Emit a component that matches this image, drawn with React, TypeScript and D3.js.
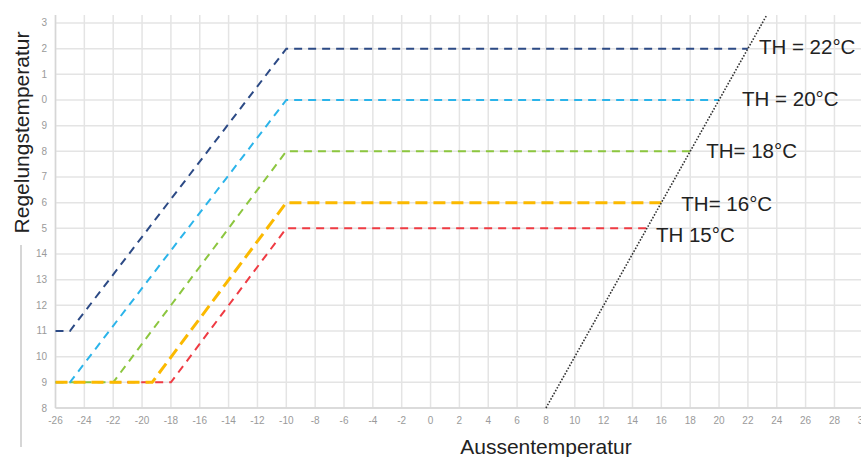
import React from "react";
import * as d3 from "d3";

const W = 861;
const H = 457;

// x ticks (Aussentemperatur)
const xTicks = d3.range(-26, 31, 2);
// y ticks (Regelungstemperatur) and their labels as shown
const yTicks = d3.range(8, 24, 1);
const yTickLabels = ["8", "9", "10", "11", "12", "13", "14", "5", "6", "7", "8", "9", "0", "1", "2", "3"];

// series: [x, y] points
const serDark: [number, number][] = [[-26, 11], [-25, 11], [-10, 22], [22, 22]];
const serLight: [number, number][] = [[-26, 9], [-25, 9], [-10, 20], [20, 20]];
const serGreen: [number, number][] = [[-26, 9], [-22, 9], [-10, 18], [18, 18]];
const serOrange: [number, number][] = [[-26, 9], [-19.3, 9], [-10, 16], [16, 16]];
const serRed: [number, number][] = [[-22, 9], [-18, 9], [-10, 15], [15, 15]];

// dotted heating limit line y = x
const limitLine: [number, number][] = [[8, 8], [23.31, 23.31]];

const labelTexts = ["TH = 22°C", "TH = 20°C", "TH= 18°C", "TH= 16°C", "TH 15°C"];
const labelAnchors: [number, number][] = [[22, 22], [20, 20], [18, 18], [16, 16], [15, 15]];
const labelOffsets: [number, number][] = [[11, 5], [23, 6], [16, 7], [20, 8], [9, 14]];

const seriesStyles = [
  { data: serRed, color: "#ef3b43", width: 2, dash: "8,6" },
  { data: serGreen, color: "#8cc63f", width: 2, dash: "8,6" },
  { data: serLight, color: "#2bb4ea", width: 2, dash: "8,6" },
  { data: serOrange, color: "#fbb900", width: 3, dash: "12,6" },
  { data: serDark, color: "#2c4a85", width: 2, dash: "8,6" },
];

export default function App() {
  const x = d3.scaleLinear().domain([-26, 30]).range([55.5, 863.3]);
  const y = d3.scaleLinear().domain([8, 23.31]).range([408, 15]);
  const line = d3
    .line<[number, number]>()
    .x((d) => x(d[0]))
    .y((d) => y(d[1]));
  const font = "'Liberation Sans', Arial, sans-serif";

  return (
    <svg
      width={W}
      height={H}
      style={{ position: "absolute", left: 0, top: 0, background: "#fff" }}
      fontFamily={font}
    >
      <rect x={0} y={0} width={W} height={H} fill="#fff" />
      {/* grid */}
      {xTicks.map((t) => (
        <line key={"vx" + t} x1={x(t)} x2={x(t)} y1={y(23.31)} y2={y(8)} stroke="#e4e4e4" strokeWidth={1.5} />
      ))}
      {yTicks.map((t) => (
        <line key={"hy" + t} x1={x(-26)} x2={W} y1={y(t)} y2={y(t)} stroke="#e4e4e4" strokeWidth={1.5} />
      ))}
      <line x1={x(-26)} x2={W} y1={y(8)} y2={y(8)} stroke="#d6d6d6" strokeWidth={1.5} />
      <line x1={x(-26)} x2={x(-26)} y1={y(23.31)} y2={y(8)} stroke="#d6d6d6" strokeWidth={1.5} />

      {/* tick labels */}
      {xTicks.map((t) => (
        <text key={"xl" + t} x={x(t)} y={424} fontSize={10} fill="#9a9a9a" textAnchor="middle">
          {String(t)}
        </text>
      ))}
      {yTicks.map((t, i) => (
        <text key={"yl" + t} x={47} y={y(t) + 3.5} fontSize={10} fill="#9a9a9a" textAnchor="end">
          {yTickLabels[i]}
        </text>
      ))}

      {/* series */}
      {seriesStyles.map((s, i) => (
        <path
          key={"s" + i}
          d={line(s.data) || ""}
          fill="none"
          stroke={s.color}
          strokeWidth={s.width}
          strokeDasharray={s.dash}
        />
      ))}

      {/* limit line */}
      <path d={line(limitLine) || ""} fill="none" stroke="#333" strokeWidth={1.6} strokeDasharray="1.6,1.6" />

      {/* annotations */}
      {labelTexts.map((t, i) => (
        <text
          key={"lab" + i}
          x={x(labelAnchors[i][0]) + labelOffsets[i][0]}
          y={y(labelAnchors[i][1]) + labelOffsets[i][1]}
          fontSize={20.5}
          fill="#222"
        >
          {t}
        </text>
      ))}

      {/* axis titles */}
      <text x={546} y={454} fontSize={21} fill="#222" textAnchor="middle">
        Aussentemperatur
      </text>
      <text transform="translate(29,132.5) rotate(-90)" fontSize={21} fill="#222" textAnchor="middle">
        Regelungstemperatur
      </text>
      <line x1={21} x2={21} y1={245} y2={447} stroke="#c8c8c8" strokeWidth={1.5} />
    </svg>
  );
}
